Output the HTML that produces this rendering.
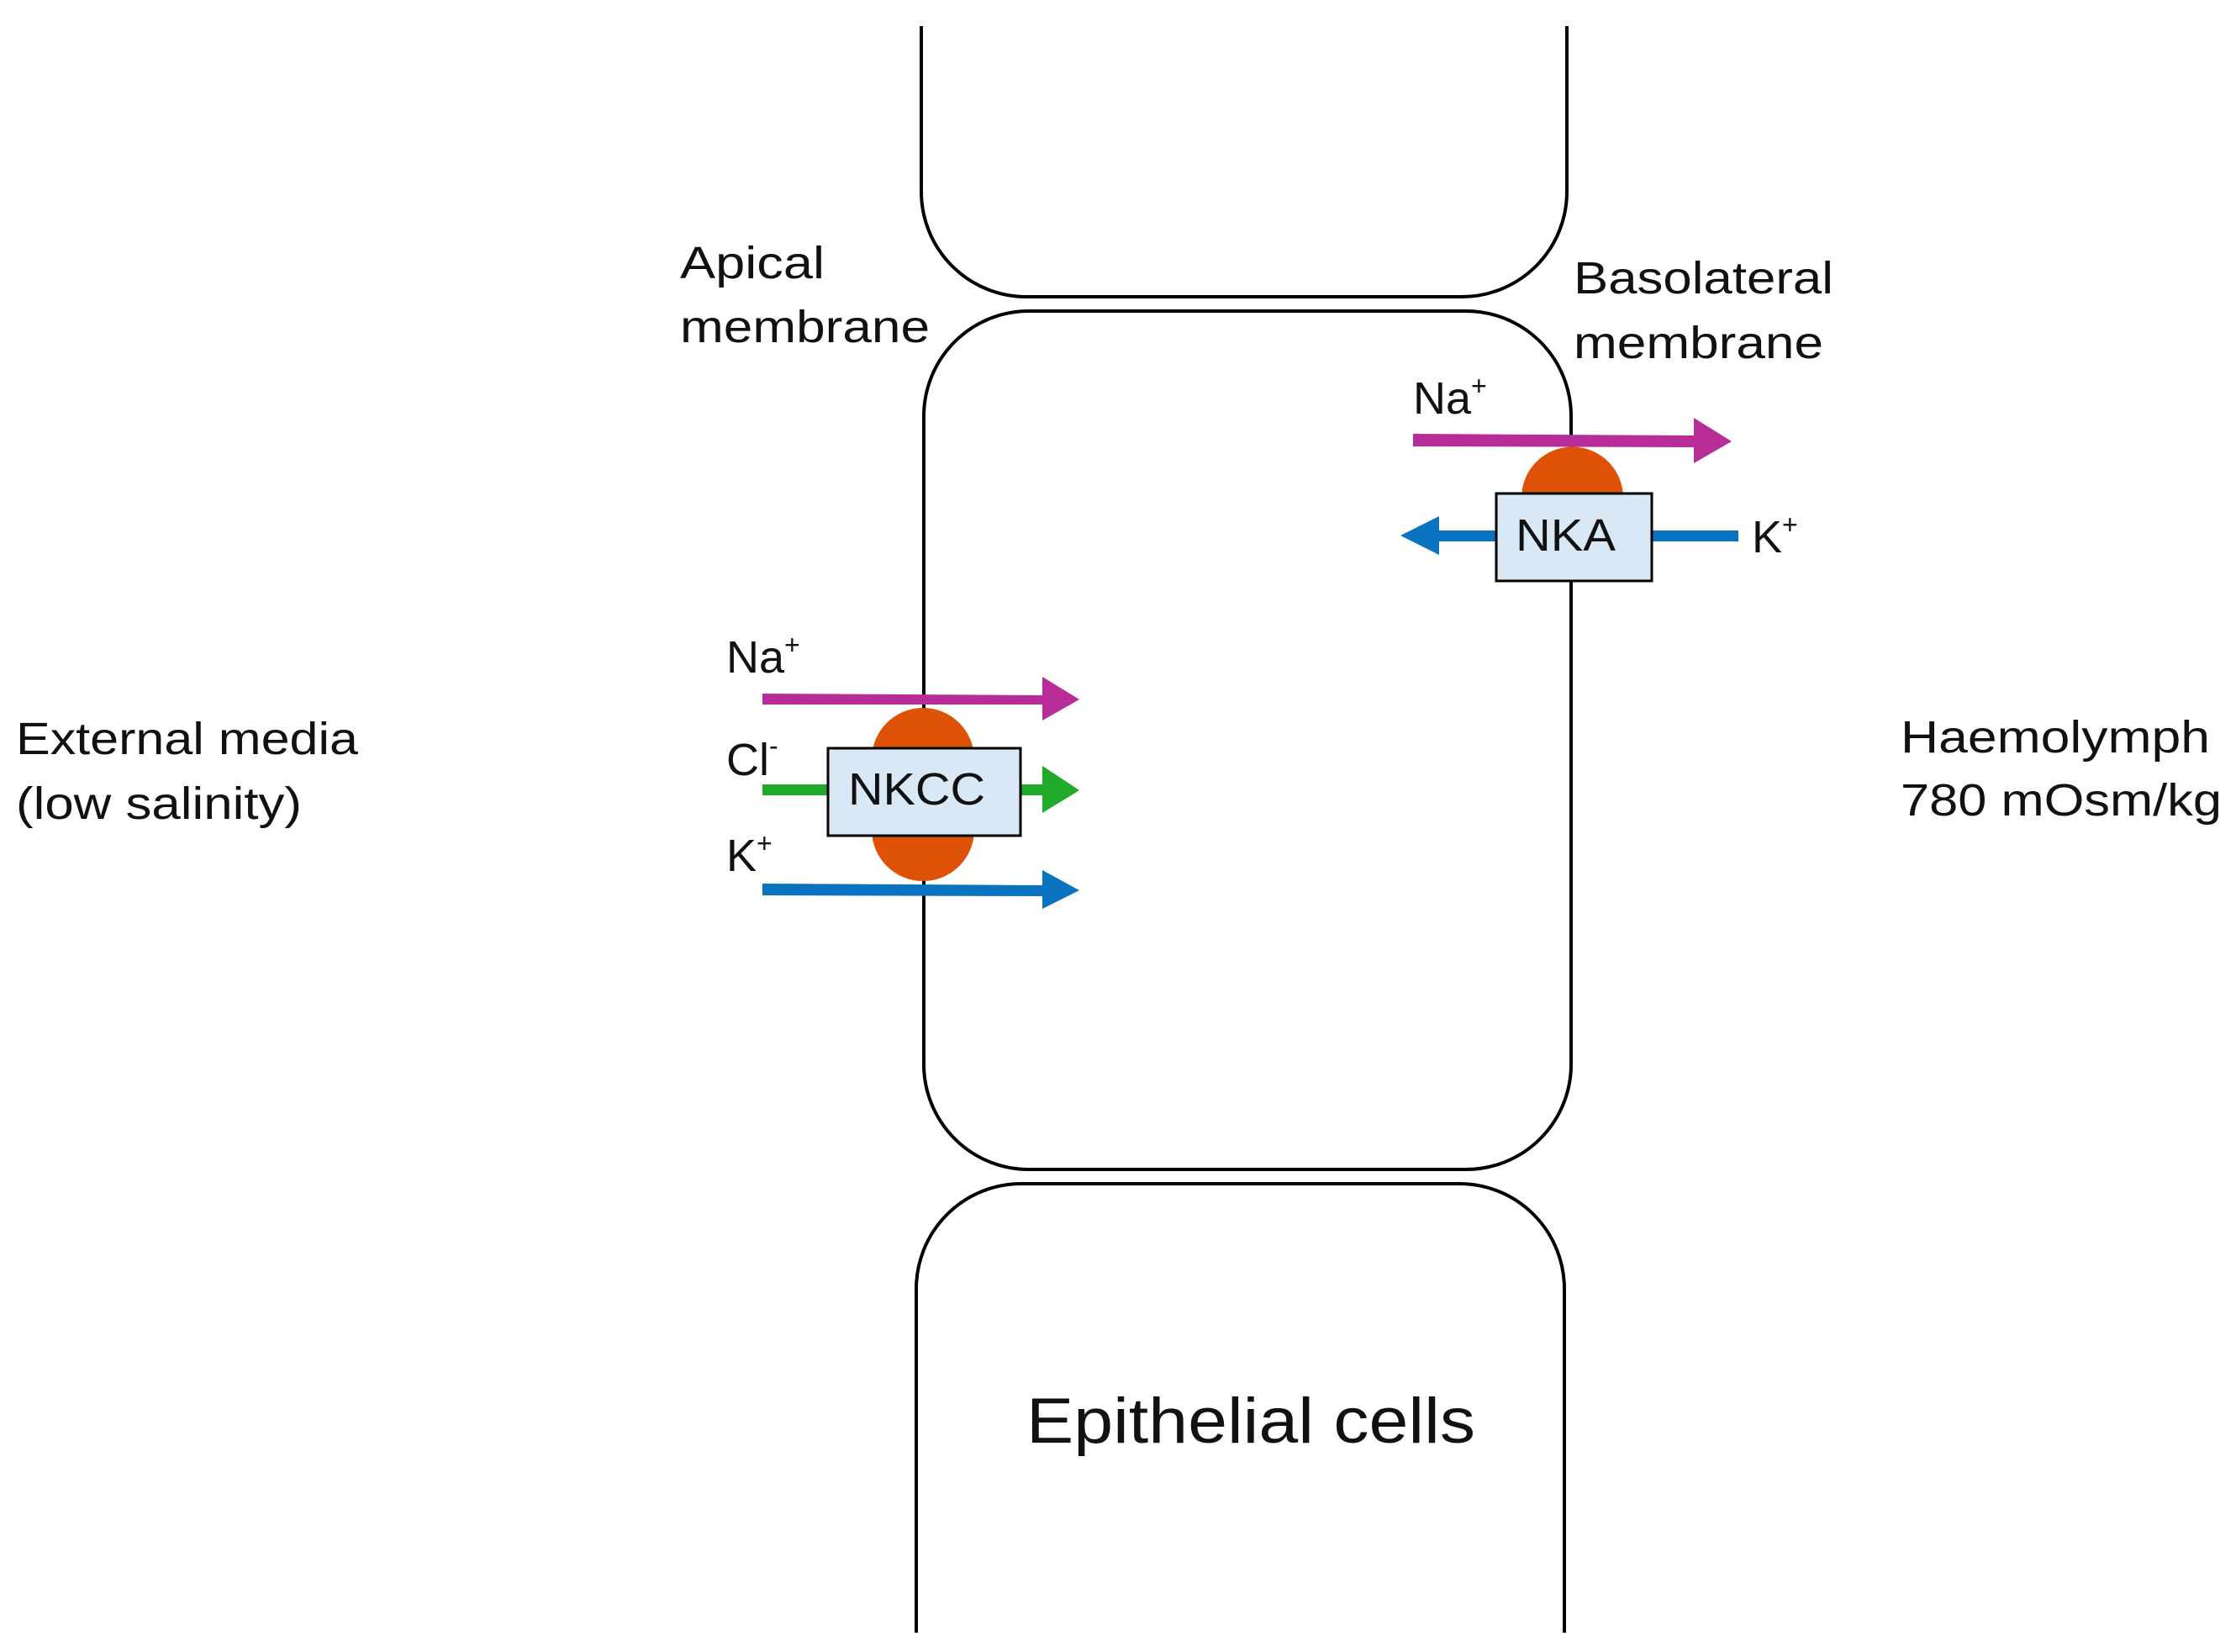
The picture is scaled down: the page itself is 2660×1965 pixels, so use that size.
<!DOCTYPE html>
<html><head><meta charset="utf-8"><style>
html,body{margin:0;padding:0;background:#fff}
svg{display:block}
text{font-family:"Liberation Sans",sans-serif;fill:#111}
</style></head><body>
<svg width="2660" height="1965" viewBox="0 0 2660 1965" xmlns="http://www.w3.org/2000/svg">
<g fill="none" stroke="#000" stroke-width="4">
<path d="M1096 31 V228 A125 125 0 0 0 1221 353 H1739 A125 125 0 0 0 1864 228 V31"/>
<path d="M1099 495 A125 125 0 0 1 1224 370 H1744 A125 125 0 0 1 1869 495 V1266 A125 125 0 0 1 1744 1391 H1224 A125 125 0 0 1 1099 1266 Z"/>
<path d="M1090 1942 V1533 A125 125 0 0 1 1215 1408 H1736 A125 125 0 0 1 1861 1533 V1942"/>
</g>
<!-- NKCC -->
<rect x="1037" y="842" width="122" height="206" rx="61" fill="#dd5207"/>
<path d="M907 825 L1240 827 L1240 805 L1284 832 L1240 857 L1240 838 L907 838 Z" fill="#b82c98"/>
<path d="M907 933 L1240 933 L1240 911 L1284 940 L1240 967 L1240 946 L907 946 Z" fill="#1faa2a"/>
<path d="M907 1051 L1240 1053 L1240 1035 L1284 1059 L1240 1081 L1240 1066 L907 1065 Z" fill="#0a73c0"/>
<rect x="985" y="890" width="229" height="104" fill="#d9e8f5" stroke="#000" stroke-width="3"/>
<text x="1009" y="957" font-size="54" textLength="163" lengthAdjust="spacingAndGlyphs">NKCC</text>
<!-- NKA -->
<path d="M1810 592 A60 60 0 0 1 1931 592 Z" fill="#dd5207"/>
<path d="M1681 516 L2015 518 L2015 497 L2060 525 L2015 551 L2015 532 L1681 531 Z" fill="#b82c98"/>
<path d="M1666 637 L1712 614 L1712 631 L2068 631 L2068 644 L1712 644 L1712 660 Z" fill="#0a73c0"/>
<rect x="1780" y="587" width="185" height="104" fill="#d9e8f5" stroke="#000" stroke-width="3"/>
<text x="1803" y="655" font-size="54" textLength="119" lengthAdjust="spacingAndGlyphs">NKA</text>
<!-- ion labels -->
<text x="864" y="800" font-size="54">Na<tspan font-size="32" dy="-22">+</tspan></text>
<text x="864" y="922" font-size="54">Cl<tspan font-size="32" dy="-24">-</tspan></text>
<text x="864" y="1036" font-size="54">K<tspan font-size="32" dy="-22">+</tspan></text>
<text x="1681" y="492" font-size="54">Na<tspan font-size="32" dy="-22">+</tspan></text>
<text x="2084" y="657" font-size="54">K<tspan font-size="32" dy="-22">+</tspan></text>
<!-- labels -->
<text x="809" y="331" font-size="54" textLength="172" lengthAdjust="spacingAndGlyphs">Apical</text>
<text x="809" y="407" font-size="54" textLength="297" lengthAdjust="spacingAndGlyphs">membrane</text>
<text x="1872" y="349" font-size="54" textLength="309" lengthAdjust="spacingAndGlyphs">Basolateral</text>
<text x="1872" y="426" font-size="54" textLength="297" lengthAdjust="spacingAndGlyphs">membrane</text>
<text x="19" y="897" font-size="54" textLength="407" lengthAdjust="spacingAndGlyphs">External media</text>
<text x="19" y="974" font-size="54" textLength="340" lengthAdjust="spacingAndGlyphs">(low salinity)</text>
<text x="2261" y="895" font-size="54" textLength="368" lengthAdjust="spacingAndGlyphs">Haemolymph</text>
<text x="2261" y="970" font-size="54" textLength="382" lengthAdjust="spacingAndGlyphs">780 mOsm/kg</text>
<text x="1221" y="1716" font-size="76" textLength="534" lengthAdjust="spacingAndGlyphs">Epithelial cells</text>
</svg>
</body></html>
